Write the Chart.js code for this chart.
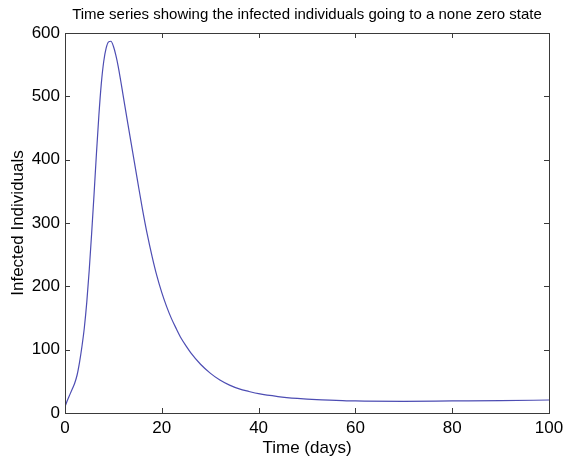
<!DOCTYPE html>
<html>
<head>
<meta charset="utf-8">
<script src="https://cdn.jsdelivr.net/npm/chart.js@4"></script>
<style>
  html, body { margin: 0; padding: 0; background: #fff; }
  #wrap { width: 565px; height: 463px; }
</style>
</head>
<body>
<div id="wrap"><canvas id="infChart" width="565" height="463"></canvas></div>
<script>
// time in days and infected individuals
let days = [0, 0.5, 1, 1.5, 2, 2.5, 3, 3.5, 4, 4.5, 5, 5.5, 6, 6.5, 7, 7.5, 8, 8.5, 9, 9.5,
  10, 10.5, 11, 11.5, 12, 13, 14, 15, 16, 17, 18, 19, 20, 21, 22, 23, 24, 25, 26, 28,
  30, 32, 34, 36, 38, 40, 44, 48, 52, 56, 60, 70, 80, 90, 100];
let infected = [10, 20, 29, 38, 47, 60, 80, 105, 135, 175, 225, 283, 345, 410, 470, 520, 555, 576, 586, 587,
  579, 565, 547, 525, 502, 456, 411, 366, 322, 282, 247, 216, 190, 168, 149, 133, 118, 106, 95, 77,
  63, 52, 44, 38, 34, 30.5, 26, 23, 21, 20, 19, 18.5, 19, 19.5, 20.5];

let xTicks = [0, 20, 40, 60, 80, 100];
let yTicks = [0, 100, 200, 300, 400, 500, 600];

let points = days.map(function (d, i) {
  return { x: d, y: infected[i] };
});

let font = "'Liberation Sans', Arial, sans-serif";

// box round the plot and inward ticks on all four sides
let boxTicks = {
  id: "boxTicks",
  afterDraw: function (chart) {
    let ctx = chart.ctx;
    let a = chart.chartArea;
    let xs = chart.scales.x;
    let ys = chart.scales.y;
    ctx.save();
    ctx.strokeStyle = "#3a3a3a";
    ctx.lineWidth = 1;
    ctx.beginPath();
    xTicks.forEach(function (t) {
      let px = Math.round(xs.getPixelForValue(t)) + 0.5;
      ctx.moveTo(px, a.bottom);
      ctx.lineTo(px, a.bottom - 5);
      ctx.moveTo(px, a.top);
      ctx.lineTo(px, a.top + 5);
    });
    yTicks.forEach(function (t) {
      let py = Math.round(ys.getPixelForValue(t)) + 0.5;
      ctx.moveTo(a.left, py);
      ctx.lineTo(a.left + 5, py);
      ctx.moveTo(a.right, py);
      ctx.lineTo(a.right - 5, py);
    });
    ctx.stroke();
    ctx.strokeRect(Math.round(a.left) + 0.5, Math.round(a.top) + 0.5,
      Math.round(a.right - a.left), Math.round(a.bottom - a.top));
    ctx.restore();
  },
};

new Chart(document.getElementById("infChart"), {
  type: "line",
  data: {
    datasets: [
      {
        data: points,
        borderColor: "#4d4db3",
        borderWidth: 1.2,
        pointRadius: 0,
        fill: false,
        cubicInterpolationMode: "monotone",
      },
    ],
  },
  options: {
    responsive: false,
    animation: false,
    layout: { padding: { left: 0, right: 16, top: 0, bottom: 0 } },
    plugins: {
      legend: { display: false },
      tooltip: { enabled: false },
      title: {
        display: true,
        fullSize: false,
        text: "Time series showing the infected individuals going to a none zero state",
        color: "#000",
        font: { family: font, size: 15, weight: "normal" },
        padding: { top: 6, bottom: 9 },
      },
    },
    scales: {
      x: {
        type: "linear",
        min: 0,
        max: 100,
        afterBuildTicks: function (s) {
          s.ticks = xTicks.map(function (v) { return { value: v }; });
        },
        afterFit: function (s) {
          s.height = 50;
          s.paddingRight = 16;
        },
        grid: { display: false, drawTicks: false },
        border: { display: false },
        ticks: { color: "#000", padding: 5, font: { family: font, size: 17 } },
        title: {
          display: true,
          text: "Time (days)",
          color: "#000",
          padding: { top: 0, bottom: 4 },
          font: { family: font, size: 17 },
        },
      },
      y: {
        min: 0,
        max: 600,
        afterBuildTicks: function (s) {
          s.ticks = yTicks.map(function (v) { return { value: v }; });
        },
        afterFit: function (s) { s.width = 65; },
        grid: { display: false, drawTicks: false },
        border: { display: false },
        ticks: { color: "#000", padding: 5, font: { family: font, size: 17 } },
        title: {
          display: true,
          text: "Infected Individuals",
          color: "#000",
          padding: { top: 8, bottom: 0 },
          font: { family: font, size: 17 },
        },
      },
    },
  },
  plugins: [boxTicks],
});
</script>
</body>
</html>
